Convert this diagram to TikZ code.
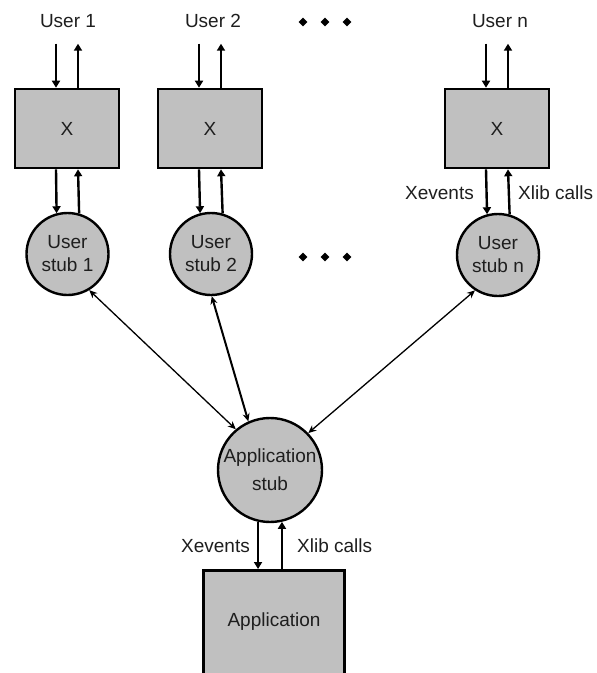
\documentclass[tikz,border=0pt]{standalone}
\usepackage{fontspec}
\setmainfont{Liberation Sans}
\usetikzlibrary{shapes.geometric,arrows.meta}
\definecolor{boxgray}{RGB}{192,192,192}
\definecolor{textgray}{RGB}{30,30,30}
\begin{document}
\begin{tikzpicture}[x=1pt,y=-1pt,
  font=\fontsize{19}{23}\selectfont,
  xbox/.style={draw=black,line width=2.6pt,fill=boxgray,minimum width=104pt,
    minimum height=79pt,inner sep=0pt,text=textgray},
  stubnode/.style={circle,draw=black,line width=2.4pt,fill=boxgray,minimum size=82pt,
    inner sep=0pt,align=center,text=textgray},
  flow/.style={line width=2.4pt,-{Triangle[length=7pt,width=8pt]}},
  link/.style={line width=1.3pt,{Stealth[length=8pt,width=7pt]}-{Stealth[length=8pt,width=7pt]}},
  lbl/.style={inner sep=0pt,text=textgray},
  dotmark/.style={diamond,fill=black,inner sep=0pt,minimum size=9pt}]
\clip (0,0) rectangle (597,673);

% X servers
\node[xbox] (x1) at (67,128.5) {X};
\node[xbox] (x2) at (210,128.5) {X};
\node[xbox] (xn) at (497,128.5) {X};

% user stubs
\node[stubnode] (s1) at (67.5,254) {User\\stub 1};
\node[stubnode] (s2) at (211,254) {User\\stub 2};
\node[stubnode] (sn) at (498,255) {User\\stub n};

% application stub and application
\node[stubnode,minimum size=104pt,font=\fontsize{19}{28}\selectfont] (as) at (270,470) {Application\\stub};
\node[xbox,minimum width=141pt,minimum height=130pt,anchor=north] (ab) at (274,569) {};
\node[lbl,anchor=base] (abtext) at (274,626) {Application};

% user labels
\node[lbl,anchor=base] (u1) at (68,27) {User 1};
\node[lbl,anchor=base] (u2) at (213,27) {User 2};
\node[lbl,anchor=base] (un) at (500,27) {User n};

% ellipsis marks
\foreach \i/\x in {1/303,2/325,3/347}{
  \node[dotmark] (dt\i) at (\x,22) {};
  \node[dotmark] (db\i) at (\x,257) {};
}

% user <-> X
\foreach \b in {x1,x2,xn}{
  \draw[flow] ([xshift=-11pt,yshift=44pt]\b.north) -- ([xshift=-11pt]\b.north);
  \draw[flow] ([xshift=11pt]\b.north) -- ([xshift=11pt,yshift=44pt]\b.north);
}

% X <-> user stub
\foreach \b/\s in {x1/s1,x2/s2,xn/sn}{
  \draw[flow] ([xshift=-11pt]\b.south) -- (\s.105.5);
  \draw[flow] (\s.74.5) -- ([xshift=11pt]\b.south);
}

% application stub <-> application
\draw[flow] (as.257) -- (as.257 |- ab.north);
\draw[flow] (as.283 |- ab.north) -- (as.283);

% flow labels
\node[lbl,anchor=base east] (xevn) at (474,199) {Xevents};
\node[lbl,anchor=base west] (xlibn) at (518,199) {Xlib calls};
\node[lbl,anchor=base east] (xeva) at (250,552) {Xevents};
\node[lbl,anchor=base west] (xliba) at (297,552) {Xlib calls};

% user stubs <-> application stub
\draw[link] (s1.-59) -- (as.130);
\draw[link,line width=2pt] (s2.-89) -- (as.114);
\draw[link] (sn.-123) -- (as.44);
\end{tikzpicture}
\end{document}
